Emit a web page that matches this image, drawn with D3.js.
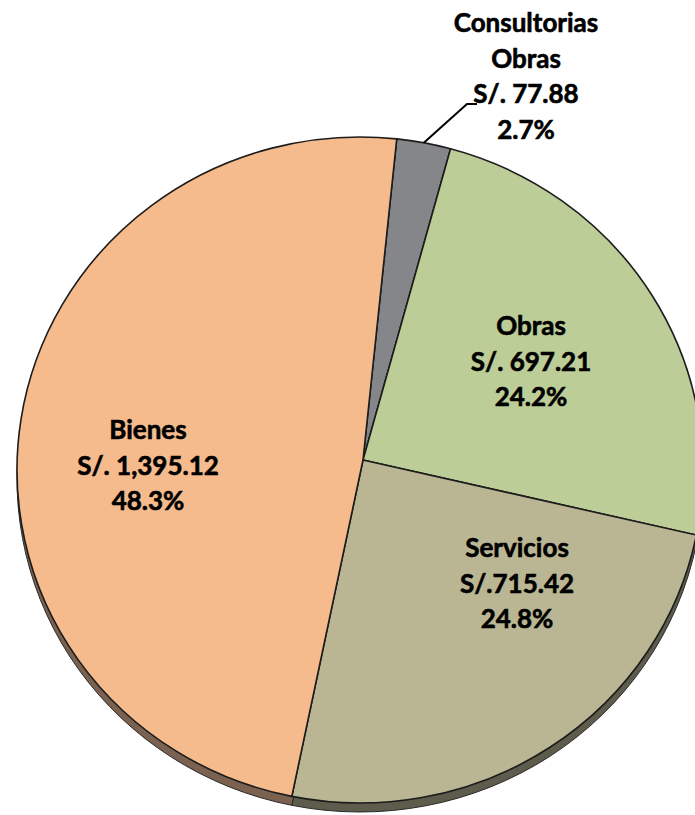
<!DOCTYPE html>
<html>
<head>
<meta charset="utf-8">
<script src="https://cdn.jsdelivr.net/npm/d3@7"></script>
<style>
  html, body { margin: 0; padding: 0; background: #fff; }
  svg { display: block; }
</style>
</head>
<body>
<div id="viz"></div>
<script>
// Data, clockwise from the top
const categories = ["Consultorias Obras", "Obras", "Servicios", "Bienes"]
const values = [77.88, 697.21, 715.42, 1395.12]
const amountLabels = ["S/. 77.88", "S/. 697.21", "S/.715.42", "S/. 1,395.12"]
const nameLines = [["Consultorias", "Obras"], ["Obras"], ["Servicios"], ["Bienes"]]

// Visualization settings
let width = 695
let height = 815
let apex = [363, 460]          // where the slices meet
let ellipseC = [360, 470]      // centre of the outline
let rx = 343, ry = 333
let depth = 9
let startDeg = 6

let topColors = ["#85868a", "#bdcd97", "#bab592", "#f5bb8c"]
let sideColors = ["#4a4a4c", "#606a4e", "#5e5c4c", "#7a6150"]

// label anchors (centre x, baseline of first line)
let labelPos = {
    "Consultorias Obras": [526, 32],
    "Obras": [531, 335],
    "Servicios": [517, 557],
    "Bienes": [148, 439]
}
let lineGap = 35.5

let svg = d3.select('#viz').append('svg').attr("width", width).attr("height", height)

let pie = d3.pie().sort(null).value(d => d)
    .startAngle(startDeg * Math.PI / 180).endAngle(startDeg * Math.PI / 180 + 2 * Math.PI)
let arcs = pie(values)
let pct = d3.format(".1%")
let total = d3.sum(values)

// point where a ray from the apex hits the ellipse
function edgePoint(theta){
    let dx = Math.sin(theta), dy = -Math.cos(theta)
    let px = apex[0] - ellipseC[0], py = apex[1] - ellipseC[1]
    let A = dx*dx/(rx*rx) + dy*dy/(ry*ry)
    let B = 2*(px*dx/(rx*rx) + py*dy/(ry*ry))
    let C = px*px/(rx*rx) + py*py/(ry*ry) - 1
    let t = (-B + Math.sqrt(B*B - 4*A*C)) / (2*A)
    return [apex[0] + t*dx, apex[1] + t*dy]
}

function paramAngle(p){
    return Math.atan2((p[0]-ellipseC[0])/rx, -(p[1]-ellipseC[1])/ry)
}

function slicePath(a, off=0){
    let p0 = edgePoint(a.startAngle), p1 = edgePoint(a.endAngle)
    let diff = paramAngle(p1) - paramAngle(p0)
    while(diff < 0){ diff += 2*Math.PI }
    let large = diff > Math.PI ? 1 : 0
    return `M${apex[0]},${apex[1]+off}L${p0[0]},${p0[1]+off}` +
           `A${rx},${ry} 0 ${large} 1 ${p1[0]},${p1[1]+off}Z`
}

//Side of the disc (shifted copy underneath)
svg.append("g").selectAll("path").data(arcs).join("path")
    .attr("d", d => slicePath(d, depth))
    .attr("fill", (d, i) => sideColors[i])
    .attr("stroke", "#2a2a2a").attr("stroke-width", 1)

//Top face
svg.append("g").selectAll("path").data(arcs).join("path")
    .attr("d", d => slicePath(d))
    .attr("fill", (d, i) => topColors[i])
    .attr("stroke", "#1c1c1c").attr("stroke-width", 1.6).attr("stroke-linejoin", "round")

//Leader line for the small slice
let small = arcs[0]
let lp = edgePoint((small.startAngle + small.endAngle) / 2)
svg.append("polyline")
    .attr("points", [lp, [467, 104], [477, 104]].map(p => p.join(",")).join(" "))
    .attr("fill", "none").attr("stroke", "#000").attr("stroke-width", 2)

//Labels
arcs.forEach((a, i) => {
    let lines = nameLines[i].concat([amountLabels[i], pct(values[i] / total)])
    let pos = labelPos[categories[i]]
    let t = svg.append("text").attr("text-anchor", "middle")
        .attr("font-family", "Lato, 'Open Sans', sans-serif").attr("font-weight", 700)
        .attr("font-size", 26).attr("fill", "#000")
        .attr("stroke", "#000").attr("stroke-width", 0.6)
    lines.forEach((l, k) => {
        t.append("tspan").attr("x", pos[0]).attr("y", pos[1] + k * lineGap).text(l)
    })
})
</script>
</body>
</html>
